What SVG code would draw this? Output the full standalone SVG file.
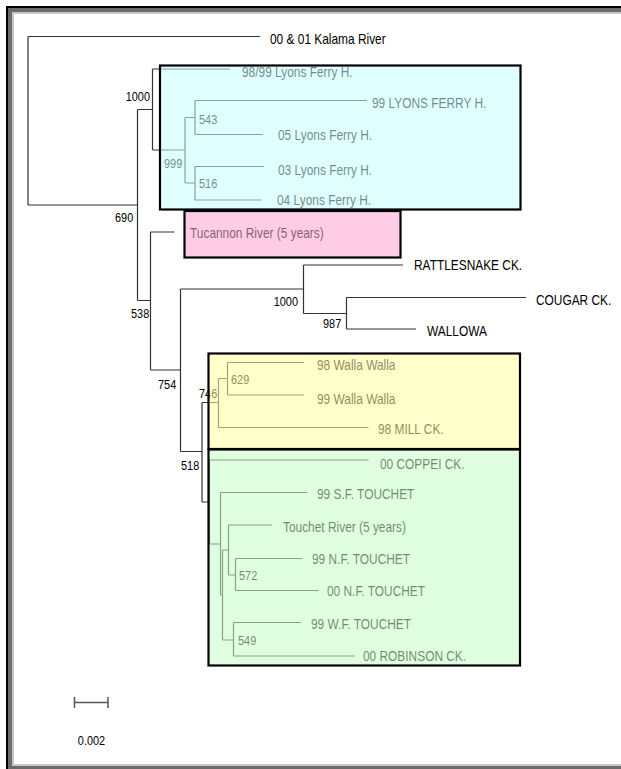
<svg xmlns="http://www.w3.org/2000/svg" width="621" height="769" viewBox="0 0 621 769">
<style>
.br{fill:none;stroke:#333;stroke-width:1.2}
.t{font-family:"Liberation Sans",Arial,sans-serif;font-size:14px;fill:#000}
.n{font-family:"Liberation Sans",Arial,sans-serif;font-size:13px;fill:#000}
.e{text-anchor:end}
.m{text-anchor:middle}
.box{stroke:#000;stroke-width:2.2;fill-opacity:.55}
</style>
<rect width="621" height="769" fill="#fff"/>
<g id="frame">
<rect x="6" y="6" width="615" height="2" fill="#000"/>
<rect x="6" y="6" width="2" height="763" fill="#000"/>
<rect x="8" y="8" width="613" height="4" fill="#6b6b6b"/>
<rect x="8" y="8" width="4" height="761" fill="#6b6b6b"/>
<rect x="12" y="12" width="609" height="2" fill="#c8c8c8"/>
<rect x="12" y="12" width="2" height="752" fill="#c8c8c8"/>
<rect x="12" y="764" width="609" height="2" fill="#c8c8c8"/>
<rect x="8" y="766" width="613" height="3" fill="#6b6b6b"/>
</g>
<g id="connectors" class="br">
<path d="M28 36.5H260M28 36.5V205M28 205H137.5"/>
<path d="M137.5 109.5V300.5M137.5 109.5H152.5M137.5 300.5H150.5"/>
<path d="M152.5 69V150M152.5 69H230M152.5 150H185"/>
<path d="M185 117.5V183M185 117.5H195M185 183H195"/>
<path d="M195 100.5V134.5M195 100.5H367M195 134.5H263"/>
<path d="M195 166.5V200M195 166.5H264M195 200H261"/>
<path d="M150.5 232V370M150.5 232H174.5M150.5 370H180.5"/>
<path d="M180.5 289V451.5M180.5 289H303.5M180.5 451.5H202"/>
<path d="M303.5 265V313.5M303.5 265H403M303.5 313.5H346.5"/>
<path d="M346.5 297.5V329M346.5 297.5H526M346.5 329H416"/>
<path d="M202 402.5V502M202 402.5H218.5M202 502H209.5"/>
<path d="M218.5 378.5V427.5M218.5 378.5H227.5M218.5 427.5H368.5"/>
<path d="M227.5 362.5V395M227.5 362.5H304M227.5 395H304"/>
<path d="M209.5 460V544M209.5 460H368.5M209.5 544H220.5"/>
<path d="M220.5 492.5V595M220.5 492.5H307.5M220.5 595H222.5"/>
<path d="M222.5 550V640M222.5 550H228.5M222.5 640H233.5"/>
<path d="M228.5 525V575M228.5 525H272M228.5 575H235.5"/>
<path d="M235.5 558.5V590.5M235.5 558.5H302M235.5 590.5H318.5"/>
<path d="M233.5 622.5V656M233.5 622.5H301M233.5 656H355"/>
</g>
<g id="leaf-kalama"><text class="t" transform="translate(270 44) scale(.85 1)">00 &amp; 01 Kalama River</text></g>
<g id="leaf-lfh9899"><text class="t" transform="translate(242 77) scale(.85 1)">98/99 Lyons Ferry H.</text></g>
<g id="leaf-lfh99"><text class="t" transform="translate(372 108) scale(.85 1)">99 LYONS FERRY H.</text></g>
<g id="leaf-lfh05"><text class="t" transform="translate(278 140) scale(.85 1)">05 Lyons Ferry H.</text></g>
<g id="leaf-lfh03"><text class="t" transform="translate(278 175) scale(.85 1)">03 Lyons Ferry H.</text></g>
<g id="leaf-lfh04"><text class="t" transform="translate(277 205) scale(.85 1)">04 Lyons Ferry H.</text></g>
<g id="leaf-tucannon"><text class="t" transform="translate(190 238) scale(.85 1)">Tucannon River (5 years)</text></g>
<g id="leaf-rattlesnake"><text class="t" transform="translate(414 270) scale(.85 1)">RATTLESNAKE CK.</text></g>
<g id="leaf-cougar"><text class="t" transform="translate(536 305) scale(.85 1)">COUGAR CK.</text></g>
<g id="leaf-wallowa"><text class="t" transform="translate(427 336) scale(.85 1)">WALLOWA</text></g>
<g id="leaf-ww98"><text class="t" transform="translate(317 370) scale(.85 1)">98 Walla Walla</text></g>
<g id="leaf-ww99"><text class="t" transform="translate(317 404) scale(.85 1)">99 Walla Walla</text></g>
<g id="leaf-mill"><text class="t" transform="translate(378 434) scale(.85 1)">98 MILL CK.</text></g>
<g id="leaf-coppei"><text class="t" transform="translate(380 469) scale(.85 1)">00 COPPEI CK.</text></g>
<g id="leaf-sft"><text class="t" transform="translate(317 499) scale(.85 1)">99 S.F. TOUCHET</text></g>
<g id="leaf-touchet"><text class="t" transform="translate(283 532) scale(.85 1)">Touchet River (5 years)</text></g>
<g id="leaf-nft99"><text class="t" transform="translate(312 564) scale(.85 1)">99 N.F. TOUCHET</text></g>
<g id="leaf-nft00"><text class="t" transform="translate(327 596) scale(.85 1)">00 N.F. TOUCHET</text></g>
<g id="leaf-wft"><text class="t" transform="translate(311 629) scale(.85 1)">99 W.F. TOUCHET</text></g>
<g id="leaf-robinson"><text class="t" transform="translate(363 661) scale(.85 1)">00 ROBINSON CK.</text></g>
<g id="node-1000a"><text class="n e" transform="translate(150 101) scale(.84 1)">1000</text></g>
<g id="node-543"><text class="n" transform="translate(199 124) scale(.84 1)">543</text></g>
<g id="node-999"><text class="n" transform="translate(164 168) scale(.84 1)">999</text></g>
<g id="node-516"><text class="n" transform="translate(199 188) scale(.84 1)">516</text></g>
<g id="node-690"><text class="n" transform="translate(115 222) scale(.84 1)">690</text></g>
<g id="node-538"><text class="n" transform="translate(131 318) scale(.84 1)">538</text></g>
<g id="node-1000b"><text class="n e" transform="translate(298 306) scale(.84 1)">1000</text></g>
<g id="node-987"><text class="n" transform="translate(323 328) scale(.84 1)">987</text></g>
<g id="node-754"><text class="n" transform="translate(158 389) scale(.84 1)">754</text></g>
<g id="node-746"><text class="n" transform="translate(199 398) scale(.84 1)">746</text></g>
<g id="node-629"><text class="n" transform="translate(231 384) scale(.84 1)">629</text></g>
<g id="node-518"><text class="n" transform="translate(181 470) scale(.84 1)">518</text></g>
<g id="node-572"><text class="n" transform="translate(239 580) scale(.84 1)">572</text></g>
<g id="node-549"><text class="n" transform="translate(238 645) scale(.84 1)">549</text></g>
<g id="clade-boxes">
<rect class="box" x="160" y="65.5" width="360.5" height="144" fill="rgb(199,255,255)"/>
<rect class="box" x="184.5" y="211" width="216" height="46.5" fill="rgb(255,162,210)"/>
<rect class="box" x="208.5" y="353.5" width="311.5" height="95.5" fill="rgb(255,255,162)"/>
<rect class="box" x="208.5" y="449.5" width="311.5" height="216" fill="rgb(199,255,199)"/>
</g>
<g id="scale-bar">
<path d="M74.5 702.5H108M74.5 697V708M108 697V708" fill="none" stroke="#555" stroke-width="1.5"/>
<text class="n m" transform="translate(91.5 745) scale(.84 1)">0.002</text>
</g>
</svg>
